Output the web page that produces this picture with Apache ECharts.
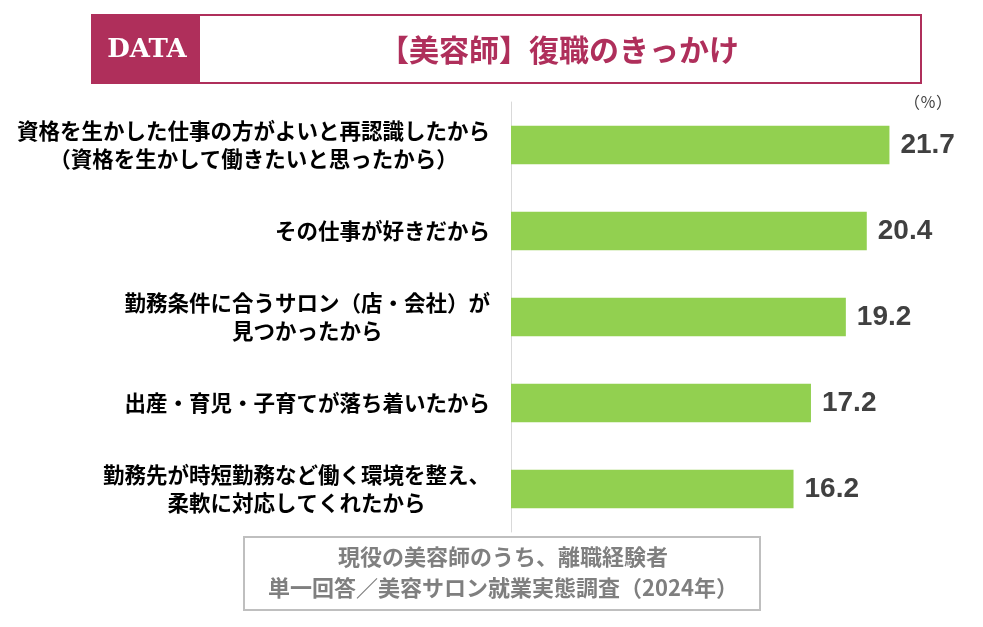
<!DOCTYPE html>
<html><head><meta charset="utf-8">
<script src="https://cdn.jsdelivr.net/npm/echarts@6/dist/echarts.min.js"></script>
<style>html,body{margin:0;padding:0;background:#fff}#c{width:983px;height:627px}</style>
</head><body><div id="c"></div>
<script>
const categories = [
  ['資格を生かした仕事の方がよいと再認識したから', '（資格を生かして働きたいと思ったから）'],
  ['その仕事が好きだから'],
  ['勤務条件に合うサロン（店・会社）が', '見つかったから'],
  ['出産・育児・子育てが落ち着いたから'],
  ['勤務先が時短勤務など働く環境を整え、', '柔軟に対応してくれたから']
];
const values = [21.7, 20.4, 19.2, 17.2, 16.2];
const titleText = '【美容師】復職のきっかけ';
const unitText = '（％）';
const noteLines = ['現役の美容師のうち、離職経験者', '単一回答／美容サロン就業実態調査（2024年）'];

const JP = '"Noto Sans CJK JP", "Noto Sans", sans-serif';
const accent = '#AF2F5B';
const chart = echarts.init(document.getElementById('c'));
chart.setOption({
  animation: false,
  grid: { left: 511, top: 102, height: 430, right: 36, containLabel: false, outerBoundsMode: 'none' },
  xAxis: { type: 'value', min: 0, max: 25, show: false },
  yAxis: {
    type: 'category', inverse: true,
    data: categories.map(c => c.join('\n')),
    axisLine: { show: true, lineStyle: { color: '#d9d9d9', width: 1 } },
    axisTick: { show: false },
    splitLine: { show: false },
    axisLabel: {
      margin: 21, align: 'right',
      formatter: v => v.split('\n').map(s => '{c|' + s + '}').join('\n'),
      rich: { c: { align: 'center', fontFamily: JP, fontWeight: 'bold', fontSize: 21.5, lineHeight: 28, color: '#000' } }
    }
  },
  series: [{
    type: 'bar', data: values, barWidth: '45%',
    itemStyle: { color: '#92D050' },
    label: {
      show: true, position: 'right', distance: 11,
      fontFamily: '"Liberation Sans", Arial, sans-serif', fontWeight: 'bold', fontSize: 28, color: '#404040',
      formatter: p => p.value.toFixed(1)
    }
  }],
  graphic: [
    { type: 'rect', shape: { x: 92, y: 15, width: 829, height: 68 }, style: { fill: '#fff', stroke: accent, lineWidth: 2 } },
    { type: 'rect', shape: { x: 92, y: 15, width: 108, height: 68 }, style: { fill: accent } },
    { type: 'text', x: 147, y: 50, style: { text: 'DATA', fill: '#fff', font: 'bold 26px "DejaVu Serif", serif', align: 'center', verticalAlign: 'middle' } },
    { type: 'text', x: 559, y: 50, style: { text: titleText, fill: accent, font: 'bold 30px ' + JP, align: 'center', verticalAlign: 'middle' } },
    { type: 'text', x: 928, y: 102, style: { text: unitText, fill: '#404040', font: '16px ' + JP, align: 'center', verticalAlign: 'middle' } },
    { type: 'rect', shape: { x: 244, y: 537, width: 516, height: 73 }, style: { fill: '#fff', stroke: '#bfbfbf', lineWidth: 2 } },
    { type: 'text', x: 503, y: 557, style: { text: noteLines[0], fill: '#7f7f7f', font: 'bold 22px ' + JP, align: 'center', verticalAlign: 'middle' } },
    { type: 'text', x: 503, y: 588, style: { text: noteLines[1], fill: '#7f7f7f', font: 'bold 22px ' + JP, align: 'center', verticalAlign: 'middle' } }
  ]
});
</script></body></html>
